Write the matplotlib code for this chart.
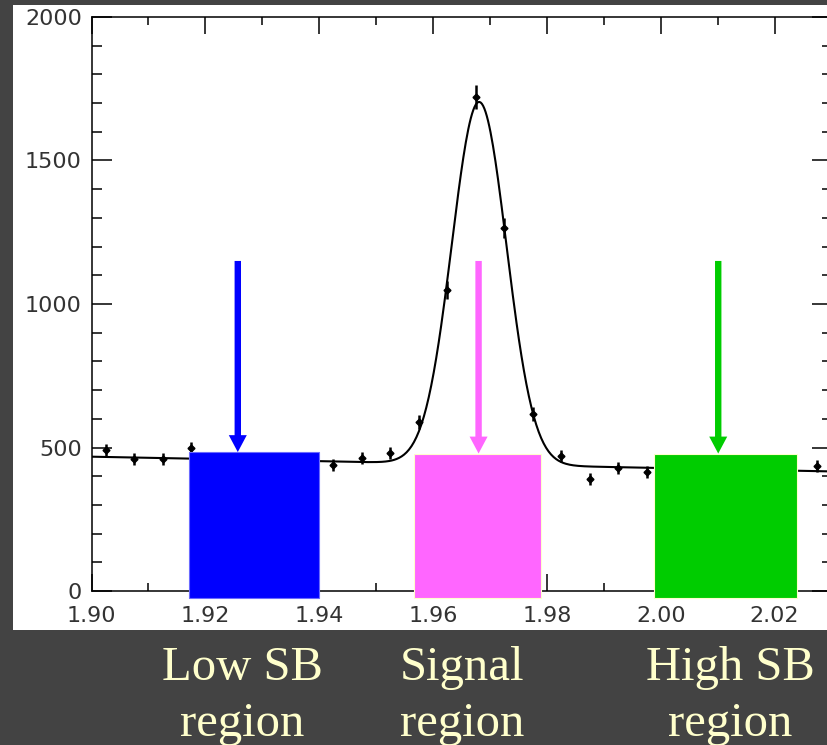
import numpy as np
import matplotlib
matplotlib.use("Agg")
import matplotlib.pyplot as plt
from matplotlib.patches import Rectangle

# data points (bin centres, counts, errors) - visible ones only
mass = [1.9025, 1.9075, 1.9125, 1.9175, 1.9425, 1.9475, 1.9525, 1.9575, 1.9625,
        1.9675, 1.9725, 1.9775, 1.9825, 1.9875, 1.9925, 1.9975, 2.0275]
counts = [491, 460, 460, 498, 439, 463, 481, 589, 1049, 1721, 1265, 617, 470, 390, 429, 415, 436]
errors = [22, 21, 21, 22, 21, 22, 22, 24, 32, 42, 36, 25, 22, 20, 21, 20, 21]

# fit: linear background + gaussian
bkg_at_190 = 468
bkg_slope = -395
peak_amp = 1263
peak_mean = 1.9681
peak_sigma = 0.0048

# regions: name, x start, x end, top, colour, arrow x
region_names = ["Low SB\nregion", "Signal\nregion", "High SB\nregion"]
region_lo = [1.9171, 1.9567, 1.9988]
region_hi = [1.9400, 1.9790, 2.0240]
region_top = [484, 479, 479]
region_colors = ["#0000ff", "#ff66ff", "#00cc00"]
region_edges = ["#6a6aff", "#ffffcc", "#ffffcc"]
arrow_x = [1.9257, 1.9680, 2.0101]
caption_x = [242, 462, 730]

fig = plt.figure(figsize=(8.27, 7.45), dpi=100, facecolor="#434343")
panel = Rectangle((13 / 827, 1 - 630 / 745), 1, 625 / 745,
                  transform=fig.transFigure, facecolor="white",
                  edgecolor="none", zorder=-10)
fig.patches.append(panel)

ax = fig.add_axes([91.5 / 827, 1 - 591 / 745, 740 / 827, 574 / 745])
ax.set_zorder(1)
ax.patch.set_alpha(0)
ax.set_xlim(1.90, 2.03)
ax.set_ylim(0, 2000)

xs = np.linspace(1.90, 2.03, 600)
fit = bkg_at_190 + bkg_slope * (xs - 1.90) + peak_amp * np.exp(-0.5 * ((xs - peak_mean) / peak_sigma) ** 2)
ax.plot(xs, fit, color="black", lw=1.5, zorder=3)
ax.errorbar(mass, counts, yerr=errors, fmt="D", color="black", ms=3.5,
            elinewidth=1.8, capsize=0, zorder=3)

for lo, hi, top, c, ec, axx in zip(region_lo, region_hi, region_top, region_colors, region_edges, arrow_x):
    ax.add_patch(Rectangle((lo, -24), hi - lo, top + 24, facecolor=c, edgecolor=ec,
                           lw=0.8, clip_on=False, zorder=5))
    ax.arrow(axx, 1150, 0, top - 1150, width=6.4 / 5691, head_width=18 / 5691,
             head_length=59, length_includes_head=True, color=c, lw=0, zorder=6)

ax.set_xticks([1.90, 1.92, 1.94, 1.96, 1.98, 2.00, 2.02])
ax.set_xticklabels(["1.90", "1.92", "1.94", "1.96", "1.98", "2.00", "2.02"])
ax.set_xticks(np.arange(1.91, 2.03, 0.02), minor=True)
ax.set_yticks([0, 500, 1000, 1500, 2000])
ax.set_yticks(np.arange(0, 2001, 100), minor=True)

ax.tick_params(axis="x", which="major", direction="in", length=12, width=1.1,
               top=True, pad=10.5, labelsize=16, labelcolor="#333333")
ax.tick_params(axis="x", which="minor", direction="in", length=6, width=1.1, top=True)
ax.tick_params(axis="y", which="major", direction="in", length=14.5, width=1.1,
               right=True, pad=7, labelsize=16, labelcolor="#333333")
ax.tick_params(axis="y", which="minor", direction="in", length=7, width=1.1, right=True)
for lab in ax.get_xticklabels() + ax.get_yticklabels():
    lab.set_family("DejaVu Sans")
for sp in ax.spines.values():
    sp.set_linewidth(1.1)

for name, cx in zip(region_names, caption_x):
    line1, line2 = name.split("\n")
    fig.text(cx / 827, 1 - 680 / 745, line1, ha="center", va="baseline",
             family="Liberation Serif", fontsize=35, color="#ffffcc")
    fig.text(cx / 827, 1 - 736 / 745, line2, ha="center", va="baseline",
             family="Liberation Serif", fontsize=35, color="#ffffcc")

fig.savefig("out.png", dpi=100, facecolor=fig.get_facecolor())
